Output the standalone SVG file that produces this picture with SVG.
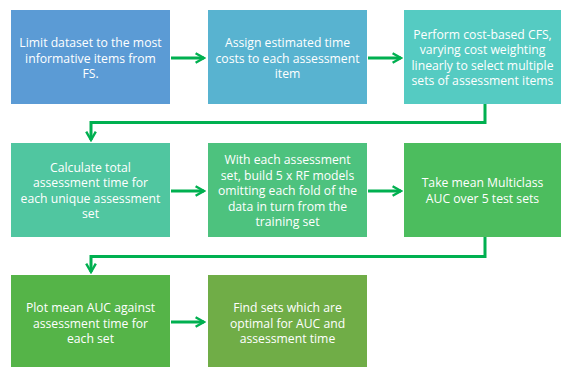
<svg xmlns="http://www.w3.org/2000/svg" width="561" height="367" viewBox="0 0 561 367">
<style>
.t{font-family:"Open Sans","Liberation Sans",sans-serif;font-size:12.2px;fill:#ffffff;text-anchor:middle}
.c{fill:none;stroke:#00B050;stroke-width:3}
</style>
<defs>
<marker id="ah" viewBox="0 0 10 10" refX="8" refY="5" markerWidth="4" markerHeight="4" orient="auto" markerUnits="strokeWidth">
<path d="M1,1 L8,5 L1,9" fill="none" stroke="#00B050" stroke-width="2"/>
</marker>
</defs>
<rect width="561" height="367" fill="#ffffff"/>
<g id="n1"><rect x="11" y="10" width="159" height="94" fill="#5B9BD5"/>
<text class="t"><tspan x="90.5" y="47">Limit dataset to the most</tspan><tspan x="90.5" y="62.5">informative items from</tspan><tspan x="90.5" y="78">FS.</tspan></text></g>
<g id="n2"><rect x="208" y="10" width="159" height="94" fill="#58B3D0"/>
<text class="t"><tspan x="287.5" y="47">Assign estimated time</tspan><tspan x="287.5" y="62.5">costs to each assessment</tspan><tspan x="287.5" y="78">item</tspan></text></g>
<g id="n3"><rect x="404" y="10" width="157" height="94" fill="#55CBC2"/>
<text class="t"><tspan x="482.5" y="38.5">Perform cost-based CFS,</tspan><tspan x="482.5" y="54">varying cost weighting</tspan><tspan x="482.5" y="69.5">linearly to select multiple</tspan><tspan x="482.5" y="85">sets of assessment items</tspan></text></g>
<g id="n4"><rect x="11" y="143" width="159" height="94" fill="#50C6A0"/>
<text class="t"><tspan x="90.5" y="171.5">Calculate total</tspan><tspan x="90.5" y="187">assessment time for</tspan><tspan x="90.5" y="202.5">each unique assessment</tspan><tspan x="90.5" y="218">set</tspan></text></g>
<g id="n5"><rect x="208" y="143" width="159" height="94" fill="#4DC27E"/>
<text class="t"><tspan x="287.5" y="164">With each assessment</tspan><tspan x="287.5" y="179.5">set, build 5 x RF models</tspan><tspan x="287.5" y="195">omitting each fold of the</tspan><tspan x="287.5" y="210.5">data in turn from the</tspan><tspan x="287.5" y="226">training set</tspan></text></g>
<g id="n6"><rect x="404" y="143" width="157" height="94" fill="#4CBD5E"/>
<text class="t"><tspan x="482.5" y="187">Take mean Multiclass</tspan><tspan x="482.5" y="202.5">AUC over 5 test sets</tspan></text></g>
<g id="n7"><rect x="11" y="275" width="159" height="92" fill="#55B448"/>
<text class="t"><tspan x="90.5" y="312">Plot mean AUC against</tspan><tspan x="90.5" y="327.5">assessment time for</tspan><tspan x="90.5" y="343">each set</tspan></text></g>
<g id="n8"><rect x="208" y="275" width="159" height="92" fill="#70AD47"/>
<text class="t"><tspan x="287.5" y="312">Find sets which are</tspan><tspan x="287.5" y="327.5">optimal for AUC and</tspan><tspan x="287.5" y="343">assessment time</tspan></text></g>
<g id="connectors">
<path class="c" d="M171,58 H204" marker-end="url(#ah)"/>
<path class="c" d="M368,58 H401" marker-end="url(#ah)"/>
<path class="c" d="M171,191 H204" marker-end="url(#ah)"/>
<path class="c" d="M368,191 H401" marker-end="url(#ah)"/>
<path class="c" d="M171,322 H204" marker-end="url(#ah)"/>
<path class="c" d="M485,104 V122.5 H91 V140" marker-end="url(#ah)"/>
<path class="c" d="M485,237 V256.5 H91 V272" marker-end="url(#ah)"/>
</g>
</svg>
